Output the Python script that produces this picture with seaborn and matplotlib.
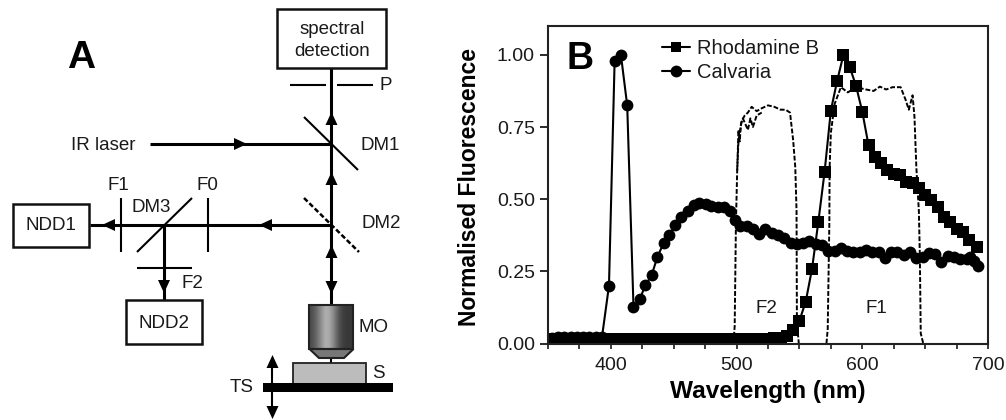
import numpy as np
import pandas as pd
import matplotlib
matplotlib.use('Agg')
import matplotlib.pyplot as plt
from matplotlib.lines import Line2D
from matplotlib.ticker import MultipleLocator
import seaborn as sns

# --- panel B values
rhod_nm = [350, 355, 360, 365, 370, 375, 380, 385, 390, 395, 400, 405, 410, 415, 420, 425, 430, 435, 440, 445,
           450, 455, 460, 465, 470, 475, 480, 485, 490, 495, 500, 505, 510, 515, 520, 525, 530, 535, 540, 545,
           550, 555, 560, 565, 570, 575, 580, 585, 590, 595, 600, 605, 610, 615, 620, 625, 630, 635, 640, 645,
           650, 655, 660, 665, 670, 675, 680, 685, 691]
rhod_val = [0.015, 0.015, 0.015, 0.015, 0.015, 0.015, 0.015, 0.015, 0.015, 0.015, 0.015, 0.015, 0.015, 0.015,
            0.015, 0.015, 0.015, 0.015, 0.015, 0.015, 0.015, 0.015, 0.015, 0.015, 0.015, 0.015, 0.015, 0.015,
            0.015, 0.015, 0.015, 0.015, 0.015, 0.015, 0.016, 0.017, 0.018, 0.02, 0.027, 0.047,
            0.079, 0.145, 0.258, 0.42, 0.594, 0.807, 0.91, 1.0, 0.958, 0.893, 0.803, 0.686, 0.646, 0.627, 0.60,
            0.587, 0.584, 0.56, 0.556, 0.538, 0.515, 0.497, 0.473, 0.44, 0.42, 0.395, 0.385, 0.36, 0.335]

calv_nm = [353, 358, 363, 368, 373, 378, 383, 388, 393, 398.5, 403, 408, 413, 418, 423, 427.5, 432.5, 437, 442,
           446.5, 451, 456, 461, 466, 470.5, 475.5, 480, 485, 490, 495, 498.5, 503, 508, 513, 518, 523, 528, 533,
           538, 543, 548, 553, 558, 563, 568, 573, 578, 583, 588, 593, 598, 603, 608, 613, 618, 623, 628, 633,
           638, 643, 648, 653, 658, 663, 668, 673, 678, 683, 686, 689, 692]
calv_val = [0.02, 0.022, 0.022, 0.022, 0.022, 0.022, 0.022, 0.022, 0.024, 0.20, 0.98, 1.0, 0.825, 0.128, 0.153,
            0.203, 0.237, 0.30, 0.348, 0.375, 0.41, 0.44, 0.46, 0.48, 0.488, 0.483, 0.476, 0.473, 0.472, 0.46,
            0.428, 0.408, 0.407, 0.397, 0.38, 0.397, 0.382, 0.376, 0.365, 0.348, 0.345, 0.348, 0.355, 0.345,
            0.341, 0.32, 0.322, 0.33, 0.32, 0.316, 0.318, 0.324, 0.317, 0.316, 0.297, 0.318, 0.318, 0.306,
            0.316, 0.297, 0.30, 0.313, 0.31, 0.283, 0.304, 0.30, 0.293, 0.293, 0.30, 0.287, 0.268]

f2_nm = [497.5, 498.5, 499.5, 500.5, 501.5, 502.5, 504, 506.5, 509, 512, 516, 520, 525, 530, 535, 539, 542.5, 545,
         546.7, 547.7, 548, 549.5]
f2_val = [0.0, 0.06, 0.42, 0.60, 0.70, 0.73, 0.77, 0.79, 0.80, 0.82, 0.805, 0.815, 0.825, 0.82, 0.81, 0.81, 0.80,
          0.705, 0.61, 0.46, 0.07, 0.0]
f2b_nm = [500.5, 501.5, 502.5, 503.5, 505, 507, 509, 511, 513, 516, 520]
f2b_val = [0.60, 0.74, 0.70, 0.76, 0.78, 0.76, 0.74, 0.78, 0.75, 0.79, 0.80]
f1_nm = [571.5, 572.5, 573.8, 574, 575, 578, 583, 588.5, 595, 603, 609, 614, 619, 624, 630.5, 634.5, 637, 640,
         641.5, 643, 645, 645.8, 646.5, 648.5]
f1_val = [0.0, 0.05, 0.417, 0.61, 0.73, 0.83, 0.888, 0.87, 0.888, 0.88, 0.875, 0.89, 0.88, 0.888, 0.888, 0.844,
          0.81, 0.86, 0.786, 0.61, 0.46, 0.30, 0.035, 0.0]

# --- panel A schematic, pixel positions on the 1006x420 picture
boxes = [(277.5, 9, 108.5, 59), (13, 203.5, 76.5, 43.5), (126.5, 300, 76, 44)]
beams = [((331.5, 68), (331.5, 305)), ((150, 144), (331.5, 144)), ((331.5, 225), (90, 225)), ((164, 225), (164, 300))]
thin_lines = [((290, 84.5), (326, 84.5)), ((337, 84.5), (373, 84.5)), ((304, 117), (358, 170)),
              ((208, 198), (208, 252)), ((121, 198), (121, 252)), ((137, 252), (192, 198)),
              ((137, 268), (192, 268)), ((272.5, 365), (272.5, 410))]
# tip x, tip y, direction
heads = [(247, 144, 'r'), (331.5, 112, 'u'), (331.5, 172, 'u'), (331.5, 245, 'u'), (331.5, 294, 'd'),
         (259, 225, 'l'), (102, 225, 'l'), (164, 293, 'd'), (272.5, 355, 'u'), (272.5, 419, 'd')]
labels_a = [('spectral', 332.5, 29.5), ('detection', 332, 52), ('P', 386, 85), ('IR laser', 103.5, 145),
            ('DM1', 380, 145), ('DM2', 381, 223), ('F1', 118, 186), ('F0', 207, 186), ('DM3', 151, 207),
            ('F2', 192.5, 283), ('NDD1', 51, 226), ('NDD2', 164.5, 323), ('MO', 374, 328), ('S', 378, 373),
            ('TS', 242, 387)]
lens_shades = [0.30, 0.36, 0.46, 0.58, 0.68, 0.66, 0.56, 0.42, 0.30, 0.24, 0.22, 0.22]

W, H = 1006, 420
INK = '#1a1a1a'

sns.set_theme(style='ticks')
plt.rcParams['font.family'] = ['Liberation Sans', 'DejaVu Sans']

fig = plt.figure(figsize=(W / 100, H / 100), dpi=100)

# schematic layer in pixel coordinates
diag = fig.add_axes([0, 0, 1, 1])
diag.axis('off')

for x, y, w, h in boxes:
    diag.add_patch(plt.Rectangle((x, y), w, h, fc='white', ec='#111111', lw=1.8, zorder=3))
for a, b in beams:
    diag.plot([a[0], b[0]], [a[1], b[1]], color='black', lw=2.2, solid_capstyle='butt', zorder=2)
for a, b in thin_lines:
    diag.plot([a[0], b[0]], [a[1], b[1]], color='black', lw=1.5, solid_capstyle='butt', zorder=2)
diag.plot([304, 359], [198, 252], color='black', lw=1.8, ls=(0, (2, 1)), zorder=2)

for x, y, d in heads:
    if d == 'u':
        pts = [(x, y), (x - 6, y + 13), (x + 6, y + 13)]
    elif d == 'd':
        pts = [(x, y), (x - 6, y - 13), (x + 6, y - 13)]
    elif d == 'l':
        pts = [(x, y), (x + 13, y - 6), (x + 13, y + 6)]
    else:
        pts = [(x, y), (x - 13, y - 6), (x - 13, y + 6)]
    diag.fill(*zip(*pts), color='black', lw=0, zorder=4)

# objective, sample, stage
shade = np.array([lens_shades])
diag.imshow(shade, extent=(309.5, 353.5, 349, 305), cmap='gray', vmin=0, vmax=1, aspect='auto',
            interpolation='bilinear', zorder=3)
diag.add_patch(plt.Rectangle((309.5, 305), 44, 44, fc='none', ec='#222222', lw=1.5, zorder=4))
diag.fill([309.5, 319, 344, 353.5], [349, 358, 358, 349], fc='#777777', ec='#222222', lw=1.5, zorder=3)
diag.plot([331.5, 331.5], [358, 363], color='black', lw=1.5, zorder=2)
diag.add_patch(plt.Rectangle((293.5, 362.5), 72.5, 21, fc='#bcbcbc', ec='#222222', lw=1.3, zorder=3))
diag.add_patch(plt.Rectangle((263, 383), 130, 9, fc='black', ec='none', zorder=4))

for txt, x, y in labels_a:
    diag.text(x, y, txt, fontsize=13.5, color=INK, ha='center', va='center', zorder=5)
diag.text(81.5, 58.5, 'A', fontsize=28, fontweight='bold', color='black', ha='center', va='center')
diag.set_xlim(0, W)
diag.set_ylim(H, 0)

# spectra
ax = fig.add_axes([548 / W, 1 - 343.5 / H, 440 / W, 317.5 / H])
ax.patch.set_alpha(0)

rhod = pd.DataFrame({'nm': rhod_nm, 'val': rhod_val})
calv = pd.DataFrame({'nm': calv_nm, 'val': calv_val})
for xs, ys in [(f2_nm, f2_val), (f2b_nm, f2b_val), (f1_nm, f1_val)]:
    filt = pd.DataFrame({'nm': xs, 'val': ys})
    sns.lineplot(data=filt, x='nm', y='val', ax=ax, color='black', lw=1.4, estimator=None, sort=False,
                 linestyle=(0, (2.5, 1)))
sns.lineplot(data=rhod, x='nm', y='val', ax=ax, color='black', lw=1.5, marker='s', markersize=8, mew=0,
             estimator=None, sort=False)
sns.lineplot(data=calv, x='nm', y='val', ax=ax, color='black', lw=1.5, marker='o', markersize=8.5, mew=0,
             estimator=None, sort=False)

ax.set_xlim(350, 700)
ax.set_ylim(0, 1.10)
ax.set_xticks([400, 500, 600, 700])
ax.xaxis.set_minor_locator(MultipleLocator(25))
ax.set_yticks([0, 0.25, 0.5, 0.75, 1.0])
ax.set_yticklabels(['0.00', '0.25', '0.50', '0.75', '1.00'])
ax.tick_params(axis='x', which='both', length=3.5, width=1.2, color=INK, labelsize=14, labelcolor=INK, pad=6)
ax.tick_params(axis='y', length=5.5, width=1.3, color=INK, labelsize=14, labelcolor=INK, pad=4)
for side in ax.spines.values():
    side.set_visible(True)
    side.set_linewidth(1.5)
    side.set_color('#222222')

ax.set_xlabel('Wavelength (nm)', fontsize=17.6, fontweight='bold', color='black')
ax.set_ylabel('Normalised Fluorescence', fontsize=16.5, fontweight='bold', color='black')
ax.xaxis.set_label_coords((767.5 - 548) / 440, -(380 - 343.5) / 317.5)
ax.yaxis.set_label_coords((481 - 548) / 440, (343.5 - 187.5) / 317.5)

ax.text(524, 0.122, 'F2', fontsize=13.5, color=INK, ha='center', va='center')
ax.text(611, 0.122, 'F1', fontsize=13.5, color=INK, ha='center', va='center')
ax.text(365, 0.985, 'B', fontsize=27, fontweight='bold', color='black', ha='left', va='center')

handles = [Line2D([], [], color='black', lw=1.5, marker='s', markersize=7.5, mew=0),
           Line2D([], [], color='black', lw=1.5, marker='o', markersize=8.5, mew=0)]
ax.legend(handles, ['Rhodamine B', 'Calvaria'], loc='upper left', bbox_to_anchor=((649 - 548) / 440, 1.0),
          frameon=False, fontsize=14.5, labelcolor=INK, handlelength=1.4, handletextpad=0.35, labelspacing=0.25,
          borderaxespad=0, borderpad=0.65)

fig.savefig('out.png', dpi=100)
